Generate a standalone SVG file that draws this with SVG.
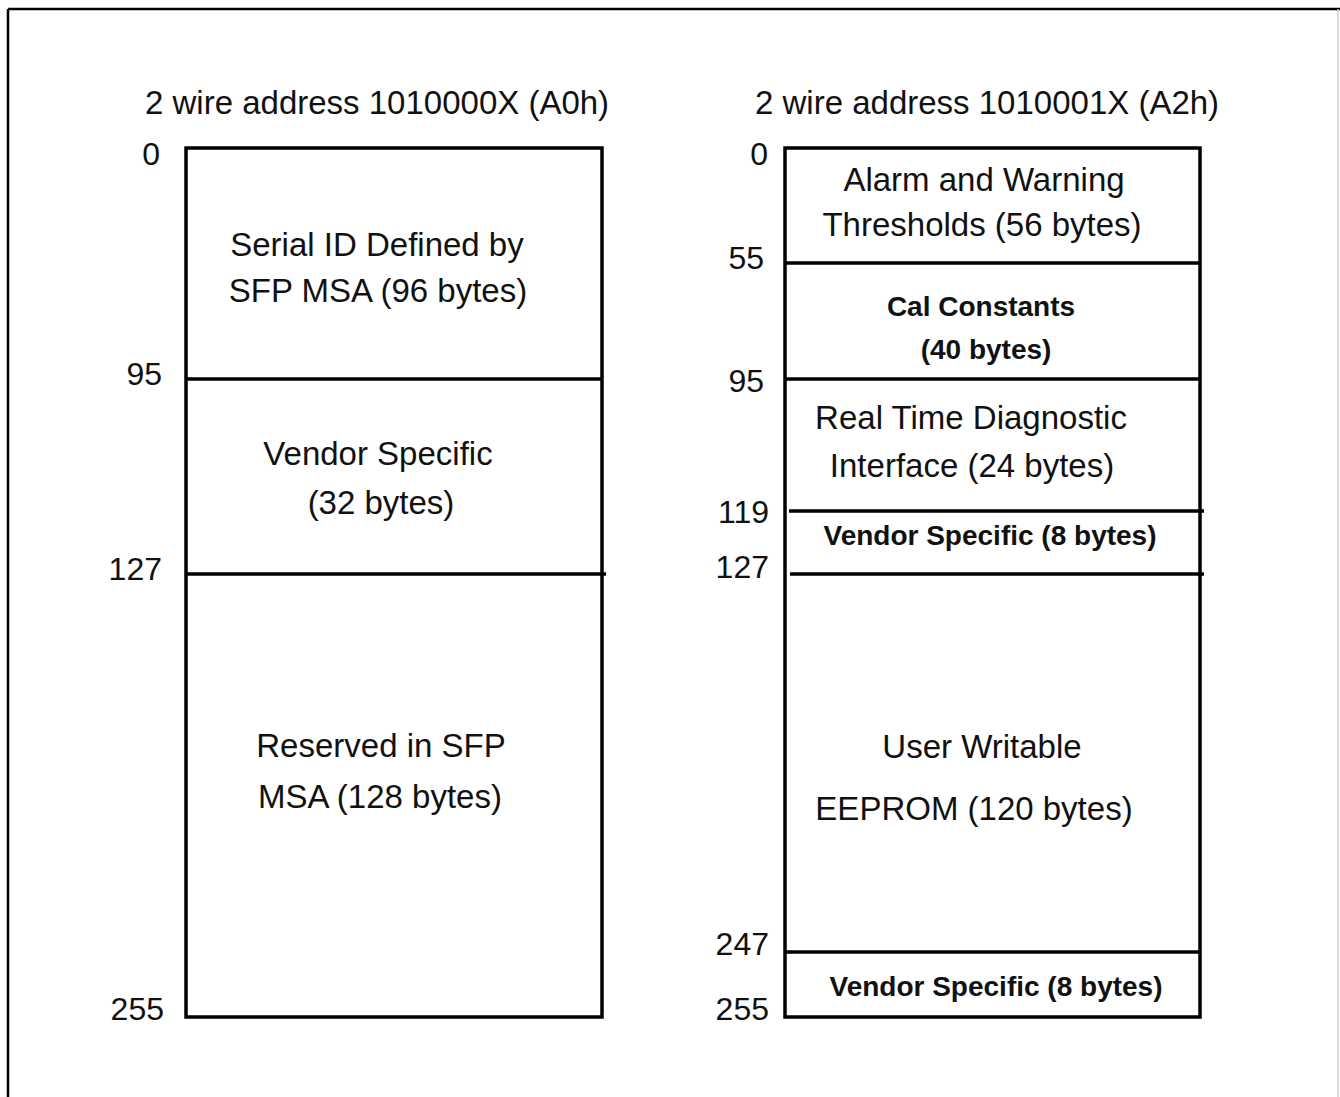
<svg xmlns="http://www.w3.org/2000/svg" width="1340" height="1097" viewBox="0 0 1340 1097">
<style>
.t{font-family:"Liberation Sans",Arial,sans-serif;font-size:33px;fill:#111;text-anchor:middle}
.b{font-family:"Liberation Sans",Arial,sans-serif;font-size:28px;font-weight:bold;fill:#111;text-anchor:middle}
.n{font-family:"Liberation Sans",Arial,sans-serif;font-size:32px;fill:#111;text-anchor:end}
.h{font-family:"Liberation Sans",Arial,sans-serif;font-size:33px;fill:#111;text-anchor:start}
.box{fill:#fff;stroke:#000;stroke-width:3.5}
.div{stroke:#000;stroke-width:3.5;fill:none}
</style>
<rect x="0" y="0" width="1340" height="1097" fill="#fff"/>
<g id="frame">
<line x1="8" y1="9" x2="1340" y2="9" stroke="#000" stroke-width="2.5"/>
<line x1="8" y1="9" x2="8" y2="1097" stroke="#000" stroke-width="2.5"/>
<line x1="1338" y1="9" x2="1338" y2="1097" stroke="#ccc" stroke-width="1.5"/>
</g>
<g id="titles">
<text class="h" x="145" y="114">2 wire address 1010000X (A0h)</text>
<text class="h" x="755" y="114">2 wire address 1010001X (A2h)</text>
</g>
<g id="map-a0">
<rect class="box" x="186" y="148" width="416" height="869"/>
<g id="a0-serial-id">
<text class="t" x="377" y="256">Serial ID Defined by</text>
<text class="t" x="378" y="302">SFP MSA (96 bytes)</text>
</g>
<g id="a0-vendor">
<text class="t" x="378" y="465">Vendor Specific</text>
<text class="t" x="381" y="514">(32 bytes)</text>
</g>
<g id="a0-reserved">
<text class="t" x="381" y="757">Reserved in SFP</text>
<text class="t" x="380" y="808">MSA (128 bytes)</text>
</g>
<g id="a0-offsets">
<text class="n" x="160" y="165">0</text>
<text class="n" x="162" y="385">95</text>
<text class="n" x="162" y="580">127</text>
<text class="n" x="164" y="1020">255</text>
</g>
</g>
<g id="map-a2">
<rect class="box" x="785" y="148" width="415" height="869"/>
<g id="a2-thresholds">
<text class="t" x="984" y="191">Alarm and Warning</text>
<text class="t" x="982" y="236">Thresholds (56 bytes)</text>
</g>
<g id="a2-cal">
<text class="b" x="981" y="316">Cal Constants</text>
<text class="b" x="986" y="359">(40 bytes)</text>
</g>
<g id="a2-diag">
<text class="t" x="971" y="429">Real Time Diagnostic</text>
<text class="t" x="972" y="477">Interface (24 bytes)</text>
</g>
<g id="a2-vendor1">
<text class="b" x="990" y="545">Vendor Specific (8 bytes)</text>
</g>
<g id="a2-eeprom">
<text class="t" x="982" y="758">User Writable</text>
<text class="t" x="974" y="820">EEPROM (120 bytes)</text>
</g>
<g id="a2-vendor2">
<text class="b" x="996" y="996">Vendor Specific (8 bytes)</text>
</g>
<g id="a2-offsets">
<text class="n" x="768" y="165">0</text>
<text class="n" x="764" y="269">55</text>
<text class="n" x="764" y="392">95</text>
<text class="n" x="769" y="523">119</text>
<text class="n" x="769" y="578">127</text>
<text class="n" x="769" y="955">247</text>
<text class="n" x="769" y="1020">255</text>
</g>
</g>
<g id="connectors">
<line class="div" x1="186" y1="379" x2="602" y2="379"/>
<line class="div" x1="186" y1="574" x2="606" y2="574"/>
<line class="div" x1="785" y1="263" x2="1200" y2="263" stroke-width="4.5"/>
<line class="div" x1="785" y1="379" x2="1200" y2="379"/>
<line class="div" x1="789" y1="511" x2="1204" y2="511"/>
<line class="div" x1="790" y1="574" x2="1204" y2="574"/>
<line class="div" x1="785" y1="952" x2="1200" y2="952"/>
</g>
</svg>
